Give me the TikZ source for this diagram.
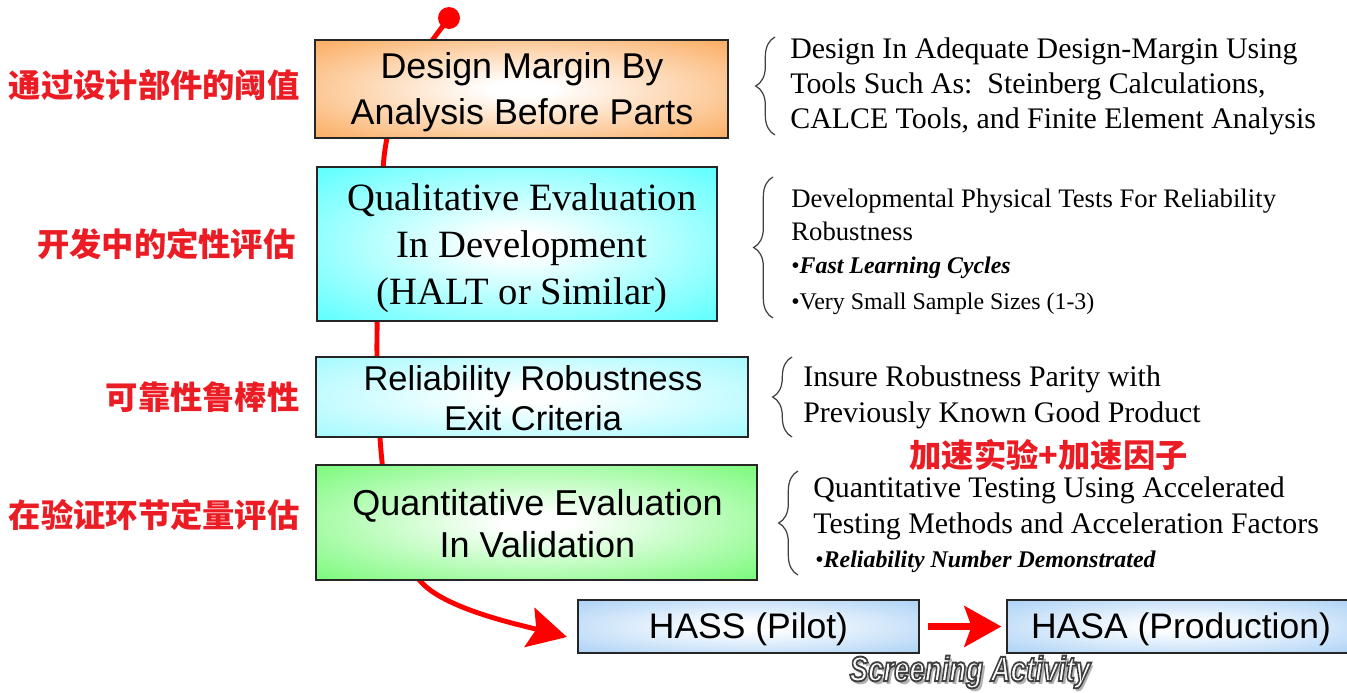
\documentclass[tikz,border=0pt]{standalone}
\usepackage{fontspec}
\setmainfont{Liberation Serif}
\setsansfont{Liberation Sans}
\newfontfamily\cjk{Noto Sans CJK SC}
\usetikzlibrary{arrows.meta,decorations.pathreplacing}

\definecolor{flowred}{RGB}{255,0,0}
\definecolor{labelred}{RGB}{236,28,36}
\definecolor{boxOrange}{RGB}{251,176,104}
\definecolor{boxCyan}{RGB}{100,255,255}
\definecolor{boxAqua}{RGB}{168,250,255}
\definecolor{boxGreen}{RGB}{128,250,128}
\definecolor{boxBlue}{RGB}{176,212,246}

% white glow in the middle of each stage box
\newcommand\glowshading[2]{%
  \pgfdeclareradialshading{#1}{\pgfpoint{0bp}{0bp}}{%
    color(0bp)=(white); color(4bp)=(white);
    color(34bp)=(#2); color(50bp)=(#2)}}
\glowshading{glowOrange}{boxOrange}
\glowshading{glowCyan}{boxCyan}
\glowshading{glowAqua}{boxAqua}
\glowshading{glowGreen}{boxGreen}
\glowshading{glowBlue}{boxBlue}

\newcommand\setfs[2]{\fontsize{#1pt}{#2pt}\selectfont}
% hollow lettering: white fill with a dark stroke round each glyph
\newcommand\hollowtext[1]{%
  \special{pdf:literal direct 0.25 0.25 0.25 RG 1.1 w 2 Tr}#1%
  \special{pdf:literal direct 0 Tr}}

\tikzset{
  stagebox/.style={draw=black!85, line width=0.8pt, inner sep=0pt},
  stagetext/.style={inner sep=0pt, align=center, text=black},
  flow/.style={draw=flowred, line width=2.8pt,
    -{Stealth[length=22pt,width=23pt,inset=4pt]}},
  cnlabel/.style={anchor=east, inner sep=0pt, text=labelred,
    font=\cjk\bfseries\setfs{18.4}{20}},
  note/.style={anchor=base west, inner sep=0pt, text=black,
    font=\setfs{17}{20}},
  smallnote/.style={anchor=base west, inner sep=0pt, text=black,
    font=\setfs{15.2}{18}},
  bulletnote/.style={anchor=base west, inner sep=0pt, text=black,
    font=\setfs{13.6}{16}},
  curly/.style={decorate, decoration={brace, amplitude=11pt},
    line width=0.7pt, draw=black!75},
  screen/.style={inner sep=0pt, xscale=0.785,
    font=\sffamily\itshape\bfseries\setfs{20}{22}}
}

\begin{document}
\begin{tikzpicture}[x=0.02cm, y=-0.02cm]
\useasboundingbox (0,0) rectangle (1347,693);
\fill[white] (0,0) rectangle (1347,693);

% the red flow line runs behind the stage boxes
\coordinate (start) at (449,18);
\coordinate (tipA) at (567,637);
\draw[flow] (start) .. controls (425,50) and (387,95) .. (383,170)
   .. controls (379,250) and (375,330) .. (378,400)
   .. controls (381,480) and (390,560) .. (430,590)
   .. controls (460,612) and (520,625) .. (tipA);
\fill[flowred] (start) circle (11);

% stage boxes
\node[stagebox, shading=glowOrange, minimum width=8.26cm, minimum height=1.96cm]
  (margin) at (521.5,89) {};
\node[stagebox, shading=glowCyan, minimum width=8.0cm, minimum height=3.08cm]
  (qual) at (517,244) {};
\node[stagebox, shading=glowAqua, minimum width=8.64cm, minimum height=1.6cm]
  (exit) at (532,397) {};
\node[stagebox, shading=glowGreen, minimum width=8.82cm, minimum height=2.3cm]
  (quant) at (536.5,522.5) {};
\node[stagebox, shading=glowBlue, minimum width=6.82cm, minimum height=1.06cm]
  (hass) at (748.5,626.5) {};
\node[stagebox, shading=glowBlue, minimum width=6.96cm, minimum height=1.06cm]
  (hasa) at (1181,626.5) {};

% stage titles
\node[stagetext, font=\sffamily\setfs{20.4}{26}] (margintext) at (522,92)
  {Design Margin By\\Analysis Before Parts};
\node[stagetext, font=\rmfamily\setfs{22}{26.6}] (qualtext) at (522,248)
  {Qualitative Evaluation\\In Development\\(HALT or Similar)};
\node[stagetext, font=\sffamily\setfs{19.6}{22.7}] (exittext) at (533,398)
  {Reliability Robustness\\Exit Criteria};
\node[stagetext, font=\sffamily\setfs{20.5}{24}] (quanttext) at (537.5,524)
  {Quantitative Evaluation\\In Validation};
\node[stagetext, font=\sffamily\setfs{20.2}{22}] (hasstext) at (748.5,629.5)
  {HASS (Pilot)};
\node[stagetext, font=\sffamily\setfs{20.2}{22}] (hasatext) at (1181,629.5)
  {HASA (Production)};

\draw[draw=flowred, line width=4.5pt, shorten <=4.5pt, shorten >=2.8pt,
  -{Stealth[length=21pt,width=23pt,inset=4pt]}] (hass.east) -- (hasa.west);

% Chinese side labels
\node[cnlabel] (lab1) at (300,85) {通过设计部件的阈值};
\node[cnlabel] (lab2) at (296,244) {开发中的定性评估};
\node[cnlabel] (lab3) at (300,397) {可靠性鲁棒性};
\node[cnlabel] (lab4) at (300,515) {在验证环节定量评估};
\node[cnlabel, anchor=center] (lab5) at (1048.5,455) {加速实验+加速因子};

% braces and notes
\coordinate (br1t) at (775,37);  \coordinate (br1b) at (775,135);
\coordinate (br2t) at (773,177); \coordinate (br2b) at (773,318);
\coordinate (br3t) at (792,357); \coordinate (br3b) at (792,437);
\coordinate (br4t) at (798,471); \coordinate (br4b) at (798,575);
\draw[curly] (br1b) -- (br1t);
\draw[curly] (br2b) -- (br2t);
\draw[curly] (br3b) -- (br3t);
\draw[curly] (br4b) -- (br4t);

\node[note] (n11) at (790,58) {Design In Adequate Design-Margin Using};
\node[note] (n12) at (790,93) {Tools Such As:\enspace Steinberg Calculations,};
\node[note] (n13) at (790,128) {CALCE Tools, and Finite Element Analysis};

\node[smallnote] (n21) at (791,207) {Developmental Physical Tests For Reliability};
\node[smallnote] (n22) at (791,240) {Robustness};
\node[bulletnote] (n23) at (791,273) {•\textbf{\textit{Fast Learning Cycles}}};
\node[bulletnote] (n24) at (791,309) {•Very Small Sample Sizes (1-3)};

\node[note] (n31) at (803,386) {Insure Robustness Parity with};
\node[note] (n32) at (803,422) {Previously Known Good Product};

\node[note] (n41) at (813,497) {Quantitative Testing Using Accelerated};
\node[note] (n42) at (813,533) {Testing Methods and Acceleration Factors};
\node[bulletnote] (n43) at (815,567) {•\textbf{\textit{Reliability Number Demonstrated}}};

% hollow caption over a soft grey shadow
\node[screen, text=black!30] (scrshadow) at (973,675) {Screening Activity};
\node[screen, text=white] (screening) at (970,672) {\hollowtext{Screening Activity}};
\end{tikzpicture}
\end{document}
